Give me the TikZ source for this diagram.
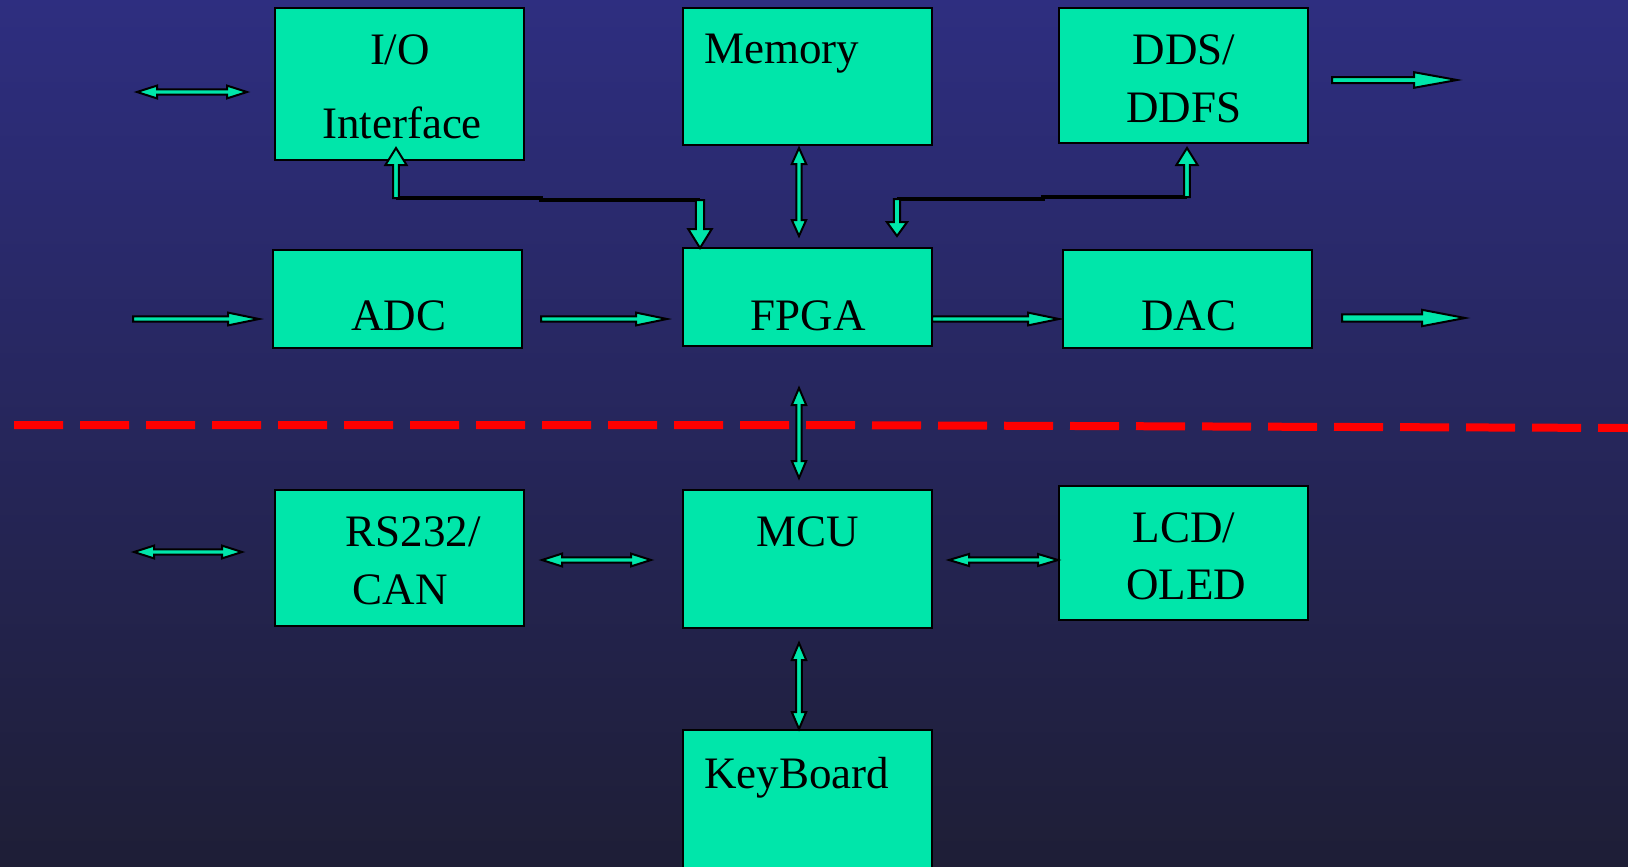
\documentclass[tikz,border=0pt]{standalone}
\usepackage{fontspec}
\setmainfont{Liberation Serif}
\usetikzlibrary{calc}

\definecolor{boxgreen}{RGB}{0,230,170}
\definecolor{bgtop}{RGB}{46,46,128}
\definecolor{bgmid}{RGB}{40,40,100}
\definecolor{bgbot}{RGB}{30,30,54}

\tikzset{
	blk/.style={draw=black,line width=1pt,fill=boxgreen,minimum width=124.5pt,inner sep=0pt,outer sep=0pt},
	txt/.style={font=\fontsize{22.5}{27}\selectfont,inner sep=0pt},
	arrowline/.style={draw=black,line width=1pt,fill=boxgreen,line join=miter},
	bus/.style={draw=black,line width=1.7pt},
	divider/.style={draw=red,line width=4pt,dash pattern=on 24.5pt off 8.5pt}
}

% block arrow: from, to, half shaft, half head, head length
\newcommand{\onearrow}[5]{%
	\coordinate (hb) at ($(#2)!#5!(#1)$);
	\draw[arrowline] ($(#1)!#3!90:(#2)$) -- ($(hb)!#3!-90:(#1)$) -- ($(hb)!#4!-90:(#1)$) -- (#2)
		-- ($(hb)!#4!90:(#1)$) -- ($(hb)!#3!90:(#1)$) -- ($(#1)!#3!-90:(#2)$) -- cycle;
}
% block arrow with two heads
\newcommand{\twoarrow}[5]{%
	\coordinate (ha) at ($(#1)!#5!(#2)$);
	\coordinate (hb) at ($(#2)!#5!(#1)$);
	\draw[arrowline] (#1) -- ($(ha)!#4!90:(hb)$) -- ($(ha)!#3!90:(hb)$) -- ($(hb)!#3!-90:(ha)$)
		-- ($(hb)!#4!-90:(ha)$) -- (#2) -- ($(hb)!#4!90:(ha)$) -- ($(hb)!#3!90:(ha)$)
		-- ($(ha)!#3!-90:(hb)$) -- ($(ha)!#4!-90:(hb)$) -- cycle;
}

\begin{document}
\begin{tikzpicture}[x=0.5pt,y=-0.5pt]
	\useasboundingbox (0,0) rectangle (1628,867);
	\shade[top color=bgtop,middle color=bgmid,bottom color=bgbot] (0,0) rectangle (1628,867);

	% blocks
	\node[blk,minimum height=76pt] (io) at (399.5,84) {};
	\node[blk,minimum height=68.5pt] (mem) at (807.5,76.5) {};
	\node[blk,minimum height=67.5pt] (dds) at (1183.5,75.5) {};
	\node[blk,minimum height=49pt] (adc) at (397.5,299) {};
	\node[blk,minimum height=49pt] (fpga) at (807.5,297) {};
	\node[blk,minimum height=49pt] (dac) at (1187.5,299) {};
	\node[blk,minimum height=68pt] (rs) at (399.5,558) {};
	\node[blk,minimum height=69pt] (mcu) at (807.5,559) {};
	\node[blk,minimum height=67pt] (lcd) at (1183.5,553) {};
	\node[blk,minimum height=75pt] (kb) at (807.5,805) {};

	% labels
	\node[txt,anchor=base] (io-l1) at (400,64) {I/O};
	\node[txt,anchor=base] (io-l2) at (402,138) {Interface};
	\node[txt,anchor=base west] (mem-l) at (704,63) {Memory};
	\node[txt,anchor=base] (dds-l1) at (1184,64) {DDS/};
	\node[txt,anchor=base] (dds-l2) at (1184,122) {DDFS};
	\node[txt,anchor=base] (adc-l) at (399,330) {ADC};
	\node[txt,anchor=base] (fpga-l) at (808,330) {FPGA};
	\node[txt,anchor=base] (dac-l) at (1189,330) {DAC};
	\node[txt,anchor=base] (rs-l1) at (413,546) {RS232/};
	\node[txt,anchor=base] (rs-l2) at (400,604) {CAN};
	\node[txt,anchor=base] (mcu-l) at (808,546) {MCU};
	\node[txt,anchor=base] (lcd-l1) at (1184,542) {LCD/};
	\node[txt,anchor=base] (lcd-l2) at (1186,599) {OLED};
	\node[txt,anchor=base west] (kb-l) at (704,788) {KeyBoard};

	% divider
	\draw[divider] (14,425) -- (800,425) -- (1628,428);

	% bus lines
	\coordinate (busl) at (396,198);
	\coordinate (busf) at (700,200);
	\coordinate (busr) at (897,199);
	\coordinate (busd) at (1187,197);
	\draw[bus] (busl) -- (541,198) -- (541,200) -- (busf);
	\draw[bus] (busr) -- (1043,199) -- (1043,197) -- (busd);

	% arrow end points
	\coordinate (io-w) at (137,92);
	\coordinate (io-e) at (247,92);
	\coordinate (io-up) at (396,148);
	\coordinate (fpga-dn) at (700,248);
	\coordinate (mem-s) at (799,148);
	\coordinate (fpga-n) at (799,236);
	\coordinate (fpga-ne) at (897,236);
	\coordinate (dds-up) at (1187,148);
	\coordinate (dds-o1) at (1332,80);
	\coordinate (dds-o2) at (1457,80);
	\coordinate (adc-i1) at (133,319);
	\coordinate (adc-i2) at (259,319);
	\coordinate (adc-o1) at (541,319);
	\coordinate (adc-o2) at (667,319);
	\coordinate (fpga-o1) at (932,319);
	\coordinate (fpga-o2) at (1059,319);
	\coordinate (dac-o1) at (1342,318);
	\coordinate (dac-o2) at (1465,318);
	\coordinate (fpga-s) at (799,388);
	\coordinate (mcu-n) at (799,478);
	\coordinate (rs-w1) at (134,552);
	\coordinate (rs-w2) at (242,552);
	\coordinate (rs-e) at (542,560);
	\coordinate (mcu-w) at (651,560);
	\coordinate (mcu-e) at (949,560);
	\coordinate (lcd-w) at (1058,560);
	\coordinate (mcu-s) at (799,643);
	\coordinate (kb-n) at (799,729);

	% arrows
	\twoarrow{io-w}{io-e}{1.3pt}{3.2pt}{10pt}
	\onearrow{busl}{io-up}{1.4pt}{5.3pt}{8.5pt}
	\onearrow{busf}{fpga-dn}{2.1pt}{5.9pt}{9.5pt}
	\twoarrow{mem-s}{fpga-n}{1.3pt}{3.6pt}{8pt}
	\onearrow{busr}{fpga-ne}{1.6pt}{5.1pt}{7pt}
	\onearrow{busd}{dds-up}{1.4pt}{5.3pt}{8.5pt}
	\onearrow{dds-o1}{dds-o2}{1.5pt}{3.9pt}{21.5pt}
	\onearrow{adc-i1}{adc-i2}{1.3pt}{3.2pt}{15.5pt}
	\onearrow{adc-o1}{adc-o2}{1.3pt}{3.2pt}{15.5pt}
	\onearrow{fpga-o1}{fpga-o2}{1.3pt}{3.2pt}{15.5pt}
	\onearrow{dac-o1}{dac-o2}{1.8pt}{4.1pt}{21.5pt}
	\twoarrow{fpga-s}{mcu-n}{1.3pt}{3.6pt}{8.5pt}
	\twoarrow{rs-w1}{rs-w2}{1.3pt}{3.2pt}{10pt}
	\twoarrow{rs-e}{mcu-w}{1.3pt}{3.2pt}{10pt}
	\twoarrow{mcu-e}{lcd-w}{1.3pt}{3pt}{10pt}
	\twoarrow{mcu-s}{kb-n}{1.4pt}{3.6pt}{8.5pt}
\end{tikzpicture}
\end{document}
